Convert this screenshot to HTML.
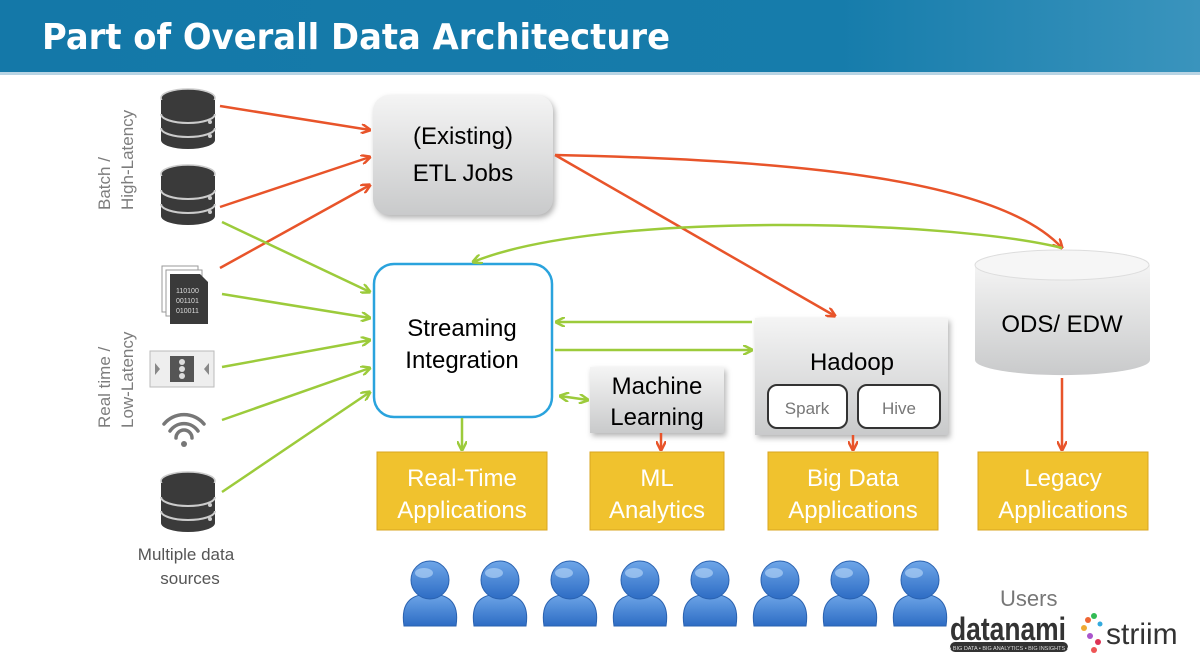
<!DOCTYPE html>
<html><head><meta charset="utf-8"><style>
body{margin:0;width:1200px;height:662px;overflow:hidden;background:#fff;font-family:"Liberation Sans",sans-serif}
</style></head><body>
<svg width="1200" height="662" xmlns="http://www.w3.org/2000/svg" font-family="Liberation Sans, sans-serif">
<defs>
<linearGradient id="hd" x1="0" y1="0" x2="1" y2="0"><stop offset="0" stop-color="#1478a8"/><stop offset="0.7" stop-color="#167cab"/><stop offset="1" stop-color="#3a94bd"/></linearGradient>
<linearGradient id="gb" x1="0" y1="0" x2="0" y2="1"><stop offset="0" stop-color="#f4f4f4"/><stop offset="1" stop-color="#c9cacb"/></linearGradient>
<linearGradient id="pb" x1="0" y1="0" x2="0" y2="1"><stop offset="0" stop-color="#6ea6e8"/><stop offset="1" stop-color="#2d6cc4"/></linearGradient>
<marker id="ar" markerWidth="10" markerHeight="10" refX="9" refY="5" orient="auto" markerUnits="userSpaceOnUse"><path d="M0,0 L10,5 L0,10" fill="none" stroke="#e8542a" stroke-width="2.5"/></marker>
<marker id="ag" markerWidth="10" markerHeight="10" refX="9" refY="5" orient="auto" markerUnits="userSpaceOnUse"><path d="M0,0 L10,5 L0,10" fill="none" stroke="#9ccb3b" stroke-width="2.5"/></marker>
<marker id="ags" markerWidth="10" markerHeight="10" refX="1" refY="5" orient="auto" markerUnits="userSpaceOnUse"><path d="M10,0 L0,5 L10,10" fill="none" stroke="#9ccb3b" stroke-width="2.5"/></marker>
<g id="db"><ellipse cx="0" cy="8" rx="27" ry="9" fill="#3a3a3a" stroke="#ccc" stroke-width="1.5"/><path d="M-27,10 v40 a27,9 0 0 0 54,0 v-40" fill="#3a3a3a"/><path d="M-27,24 a27,9 0 0 0 54,0 M-27,38 a27,9 0 0 0 54,0" fill="none" stroke="#ccc" stroke-width="2"/><circle cx="22" cy="32" r="2" fill="#ccc"/><circle cx="22" cy="46" r="2" fill="#ccc"/></g>
<g id="user"><path d="M-26,28 C-30,2 -16,-4 0,-4 C16,-4 30,2 26,28 Z" fill="url(#pb)" stroke="#2a62b0"/><circle cx="0" cy="-18" r="19" fill="url(#pb)" stroke="#2a62b0"/><ellipse cx="-6" cy="-25" rx="9" ry="5" fill="#aed0f5" opacity=".7"/></g>
</defs>
<rect width="1200" height="74" fill="url(#hd)"/>
<rect y="72" width="1200" height="3" fill="#b8d4e4"/>
<text x="42" y="49" fill="#fff" font-size="36" font-weight="bold" font-family="DejaVu Sans, sans-serif" textLength="628" lengthAdjust="spacingAndGlyphs">Part of Overall Data Architecture</text>
<text transform="translate(110,210) rotate(-90)" font-size="17" fill="#7d7d7d">Batch /</text>
<text transform="translate(133,210) rotate(-90)" font-size="17" fill="#7d7d7d">High-Latency</text>
<text transform="translate(110,428) rotate(-90)" font-size="17" fill="#7d7d7d">Real time /</text>
<text transform="translate(133,428) rotate(-90)" font-size="17" fill="#7d7d7d">Low-Latency</text>
<use href="#db" x="188" y="90"/><use href="#db" x="188" y="166"/><use href="#db" x="188" y="473"/>
<g><rect x="162" y="266" width="36" height="46" fill="#fff" stroke="#999"/><rect x="166" y="270" width="36" height="46" fill="#fff" stroke="#999"/><path d="M170,274 h30 l8,8 v42 h-38 z" fill="#3a3a3a"/><text x="176" y="293" font-size="7" fill="#ddd">110100</text><text x="176" y="303" font-size="7" fill="#ddd">001101</text><text x="176" y="313" font-size="7" fill="#ddd">010011</text></g>
<g><rect x="150" y="351" width="64" height="36" fill="#eee" stroke="#bbb"/><path d="M155,363 l5,6 l-5,6 M209,363 l-5,6 l5,6" fill="#888"/><rect x="170" y="356" width="24" height="26" fill="#555"/><circle cx="182" cy="362" r="3" fill="#ddd"/><circle cx="182" cy="369" r="3" fill="#ddd"/><circle cx="182" cy="376" r="3" fill="#ddd"/></g>
<g fill="none" stroke="#777" stroke-width="3.5" stroke-linecap="round"><path d="M164,424 a26,26 0 0 1 40,0"/><path d="M170,431 a17,17 0 0 1 28,0"/><path d="M176,438 a8,8 0 0 1 16,0"/></g>
<circle cx="184" cy="444" r="3" fill="#777"/>
<text x="186" y="560" font-size="17" fill="#555" text-anchor="middle">Multiple data</text>
<text x="190" y="584" font-size="17" fill="#555" text-anchor="middle">sources</text>
<rect x="373" y="95" width="180" height="120" rx="16" fill="url(#gb)" style="filter:drop-shadow(2px 3px 3px rgba(0,0,0,.3))"/>
<text x="463" y="144" font-size="24" text-anchor="middle">(Existing)</text>
<text x="463" y="181" font-size="24" text-anchor="middle">ETL Jobs</text>
<rect x="374" y="264" width="178" height="153" rx="20" fill="#fff" stroke="#2aa3dd" stroke-width="2.5"/>
<text x="462" y="336" font-size="24" text-anchor="middle">Streaming</text>
<text x="462" y="368" font-size="24" text-anchor="middle">Integration</text>
<rect x="755" y="318" width="193" height="117" fill="url(#gb)" style="filter:drop-shadow(2px 3px 3px rgba(0,0,0,.3))"/>
<text x="852" y="370" font-size="24" text-anchor="middle">Hadoop</text>
<rect x="768" y="385" width="79" height="43" rx="9" fill="#fff" stroke="#333" stroke-width="2"/>
<text x="807" y="414" font-size="17" fill="#777" text-anchor="middle">Spark</text>
<rect x="858" y="385" width="82" height="43" rx="9" fill="#fff" stroke="#333" stroke-width="2"/>
<text x="899" y="414" font-size="17" fill="#777" text-anchor="middle">Hive</text>
<rect x="590" y="367" width="134" height="66" fill="url(#gb)" style="filter:drop-shadow(2px 3px 3px rgba(0,0,0,.3))"/>
<text x="657" y="394" font-size="24" text-anchor="middle">Machine</text>
<text x="657" y="425" font-size="24" text-anchor="middle">Learning</text>
<path d="M975,265 v95 a87,15 0 0 0 175,0 v-95" fill="url(#gb)"/>
<ellipse cx="1062" cy="265" rx="87" ry="15" fill="#f6f6f6" stroke="#ddd"/>
<text x="1062" y="332" font-size="24" text-anchor="middle">ODS/ EDW</text>
<g fill="#f0c22e" stroke="#d9a520"><rect x="377" y="452" width="170" height="78"/><rect x="590" y="452" width="134" height="78"/><rect x="768" y="452" width="170" height="78"/><rect x="978" y="452" width="170" height="78"/></g>
<g font-size="24" fill="#fff" text-anchor="middle">
<text x="462" y="486">Real-Time</text><text x="462" y="518">Applications</text>
<text x="657" y="486">ML</text><text x="657" y="518">Analytics</text>
<text x="853" y="486">Big Data</text><text x="853" y="518">Applications</text>
<text x="1063" y="486">Legacy</text><text x="1063" y="518">Applications</text></g>
<g stroke="#e8542a" stroke-width="2.5" fill="none" marker-end="url(#ar)">
<line x1="220" y1="106" x2="370" y2="130"/>
<line x1="220" y1="207" x2="370" y2="157"/>
<line x1="220" y1="268" x2="370" y2="185"/>
<line x1="555" y1="155" x2="835" y2="316"/>
<path d="M555,155 C800,160 1000,180 1062,248"/>
<line x1="661" y1="433" x2="661" y2="450"/>
<line x1="853" y1="435" x2="853" y2="450"/>
<line x1="1062" y1="378" x2="1062" y2="450"/>
</g>
<g stroke="#9ccb3b" stroke-width="2.5" fill="none" marker-end="url(#ag)">
<line x1="222" y1="222" x2="370" y2="292"/>
<line x1="222" y1="294" x2="370" y2="318"/>
<line x1="222" y1="367" x2="370" y2="340"/>
<line x1="222" y1="420" x2="370" y2="368"/>
<line x1="222" y1="492" x2="370" y2="392"/>
<path d="M1062,248 C950,220 600,210 473,262"/>
<line x1="752" y1="322" x2="556" y2="322"/>
<line x1="555" y1="350" x2="752" y2="350"/>
<line x1="560" y1="396" x2="588" y2="400" marker-start="url(#ags)"/>
<line x1="462" y1="418" x2="462" y2="450"/>
</g>
<use href="#user" x="430" y="598"/><use href="#user" x="500" y="598"/><use href="#user" x="570" y="598"/><use href="#user" x="640" y="598"/><use href="#user" x="710" y="598"/><use href="#user" x="780" y="598"/><use href="#user" x="850" y="598"/><use href="#user" x="920" y="598"/>
<text x="1000" y="606" font-size="22" fill="#777">Users</text>
<text x="950" y="640" font-size="32" font-weight="bold" fill="#333" textLength="116" lengthAdjust="spacingAndGlyphs">datanami</text>
<rect x="950" y="642" width="118" height="10" rx="5" fill="#333"/>
<text x="1009" y="650" font-size="5.5" fill="#ddd" text-anchor="middle">• BIG DATA • BIG ANALYTICS • BIG INSIGHTS •</text>
<g><circle cx="1088" cy="620" r="3" fill="#e63"/><circle cx="1084" cy="628" r="3" fill="#ea3"/><circle cx="1094" cy="616" r="3" fill="#3b5"/><circle cx="1100" cy="624" r="2.5" fill="#3ad"/><circle cx="1090" cy="636" r="3" fill="#a5c"/><circle cx="1098" cy="642" r="3" fill="#d35"/><circle cx="1094" cy="650" r="3" fill="#e55"/></g>
<text x="1106" y="644" font-size="30" fill="#333">striim</text>
</svg>
</body></html>
